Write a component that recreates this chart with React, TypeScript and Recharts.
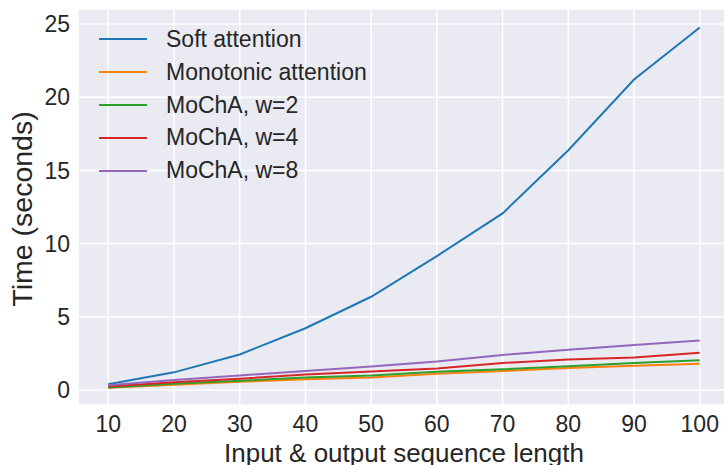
import React from 'react';
import { LineChart, Line, XAxis, YAxis, CartesianGrid } from 'recharts';

const lengths = [10, 20, 30, 40, 50, 60, 70, 80, 90, 100];
const softAttention = [0.39, 1.21, 2.43, 4.22, 6.37, 9.15, 12.06, 16.38, 21.2, 24.76];
const monotonicAttention = [0.15, 0.37, 0.56, 0.73, 0.86, 1.12, 1.3, 1.5, 1.66, 1.79];
const mochaW2 = [0.17, 0.43, 0.64, 0.86, 0.99, 1.25, 1.42, 1.63, 1.85, 2.03];
const mochaW4 = [0.24, 0.54, 0.77, 1.07, 1.27, 1.47, 1.85, 2.08, 2.23, 2.55];
const mochaW8 = [0.33, 0.68, 1.0, 1.3, 1.61, 1.95, 2.4, 2.75, 3.08, 3.38];
const xTicks = [10, 20, 30, 40, 50, 60, 70, 80, 90, 100];
const yTicks = [0, 5, 10, 15, 20, 25];

const series = [
  { key: 'soft', name: 'Soft attention', color: '#1f77b4', values: softAttention },
  { key: 'mono', name: 'Monotonic attention', color: '#ff7f0e', values: monotonicAttention },
  { key: 'w2', name: 'MoChA, w=2', color: '#2ca02c', values: mochaW2 },
  { key: 'w4', name: 'MoChA, w=4', color: '#d62728', values: mochaW4 },
  { key: 'w8', name: 'MoChA, w=8', color: '#9467bd', values: mochaW8 },
];

const data = lengths.map((x, i) => {
  const row: Record<string, number> = { x };
  series.forEach((s) => {
    row[s.key] = s.values[i];
  });
  return row;
});

const FONT = '"Liberation Sans", Arial, sans-serif';
const TEXT = '#262626';

function LegendBox() {
  return (
    <div
      style={{
        position: 'absolute',
        left: 99,
        top: 22.8,
        fontFamily: FONT,
        fontSize: 23,
        color: TEXT,
        pointerEvents: 'none',
      }}
    >
      {series.map((s) => (
        <div key={s.key} style={{ display: 'flex', alignItems: 'center', height: 32.9 }}>
          <span style={{ display: 'inline-block', width: 48, height: 2, background: s.color }} />
          <span style={{ marginLeft: 19, whiteSpace: 'nowrap' }}>{s.name}</span>
        </div>
      ))}
    </div>
  );
}

export default function App() {
  return (
    <div style={{ position: 'absolute', left: 0, top: 0, width: 724, height: 465, overflow: 'hidden', background: '#fff' }}>
      <LineChart width={740} height={465} data={data} margin={{ top: 9, right: 10, bottom: 0, left: 0 }}>
        <CartesianGrid fill="#EAEAF2" stroke="#ffffff" strokeWidth={1.5} />
        <XAxis
          type="number"
          dataKey="x"
          domain={[5.4, 104.6]}
          ticks={xTicks}
          allowDataOverflow
          axisLine={false}
          tickLine={false}
          tickMargin={5}
          height={60}
          tick={{ fontSize: 23, fill: TEXT, fontFamily: FONT }}
          label={{
            content: (props: any) => {
              const vb = props.viewBox;
              return (
                <text
                  x={vb.x + vb.width / 2}
                  y={vb.y + 56.5}
                  textAnchor="middle"
                  fontSize={26}
                  fill={TEXT}
                  fontFamily={FONT}
                >
                  Input &amp; output sequence length
                </text>
              );
            },
          }}
        />
        <YAxis
          type="number"
          domain={[-1.02, 26.02]}
          ticks={yTicks}
          allowDataOverflow
          axisLine={false}
          tickLine={false}
          width={78}
          tick={{ fontSize: 23, fill: TEXT, fontFamily: FONT }}
          label={{
            content: (props: any) => {
              const vb = props.viewBox;
              const cx = 32;
              const cy = vb.y + vb.height / 2 + 2;
              return (
                <text
                  x={cx}
                  y={cy}
                  transform={`rotate(-90, ${cx}, ${cy})`}
                  textAnchor="middle"
                  fontSize={28.5}
                  fill={TEXT}
                  fontFamily={FONT}
                >
                  Time (seconds)
                </text>
              );
            },
          }}
        />
        {series.map((s) => (
          <Line
            key={s.key}
            type="linear"
            dataKey={s.key}
            name={s.name}
            stroke={s.color}
            strokeWidth={2}
            dot={false}
            activeDot={false}
            isAnimationActive={false}
          />
        ))}
      </LineChart>
      <LegendBox />
    </div>
  );
}
